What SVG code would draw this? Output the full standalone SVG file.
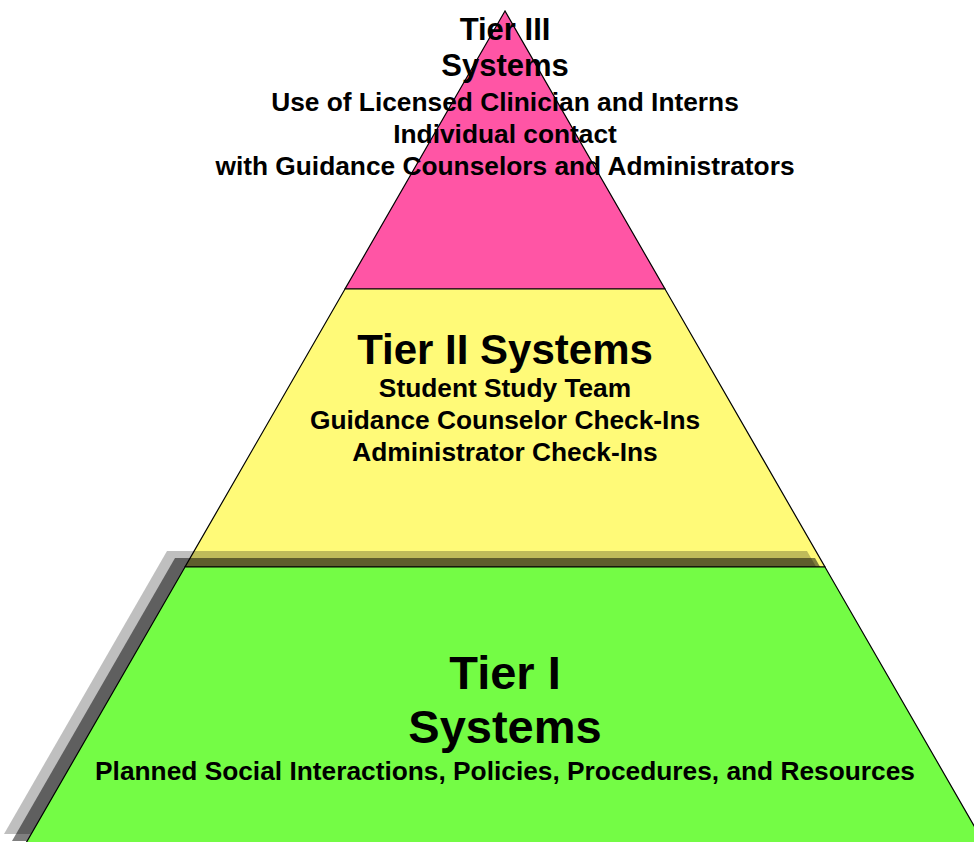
<svg xmlns="http://www.w3.org/2000/svg" width="974" height="842" viewBox="0 0 974 842">
<style>
.tier{stroke:#000;stroke-width:1.2}
text{font-family:"Liberation Sans",Arial,sans-serif;font-weight:bold;fill:#000;text-anchor:middle}
.big{font-size:42px}
.huge{font-size:47px}
.mid{font-size:31px}
.small{font-size:26.3px}
</style>
<rect width="974" height="842" fill="#fff"/>
<g id="tier3">
<polygon class="tier" points="505,11 345,289 665,289" fill="#ff55a5"/>
</g>
<g id="tier2">
<polygon class="tier" points="345,289 665,289 825,567 185,567" fill="#fffa78"/>
</g>
<g id="shadows">
<polygon points="167,551 807,551 970,834 4,834" fill="#000" opacity="0.25"/>
<polygon points="175,558 815,558 978,841 12,841" fill="#000" opacity="0.5"/>
</g>
<g id="tier1">
<polygon class="tier" points="185,567 825,567 988,850 22,850" fill="#74fc45"/>
</g>
<g id="labels3">
<text class="mid" x="505" y="40">Tier III</text>
<text class="mid" x="505" y="76">Systems</text>
<text class="small" x="505" y="111">Use of Licensed Clinician and Interns</text>
<text class="small" x="505" y="143">Individual contact</text>
<text class="small" x="505" y="175">with Guidance Counselors and Administrators</text>
</g>
<g id="labels2">
<text class="big" x="505" y="364">Tier II Systems</text>
<text class="small" x="505" y="397">Student Study Team</text>
<text class="small" x="505" y="429">Guidance Counselor Check-Ins</text>
<text class="small" x="505" y="461">Administrator Check-Ins</text>
</g>
<g id="labels1">
<text class="huge" x="505" y="689">Tier I</text>
<text class="huge" x="505" y="743">Systems</text>
<text class="small" x="505" y="780">Planned Social Interactions, Policies, Procedures, and Resources</text>
</g>
</svg>
